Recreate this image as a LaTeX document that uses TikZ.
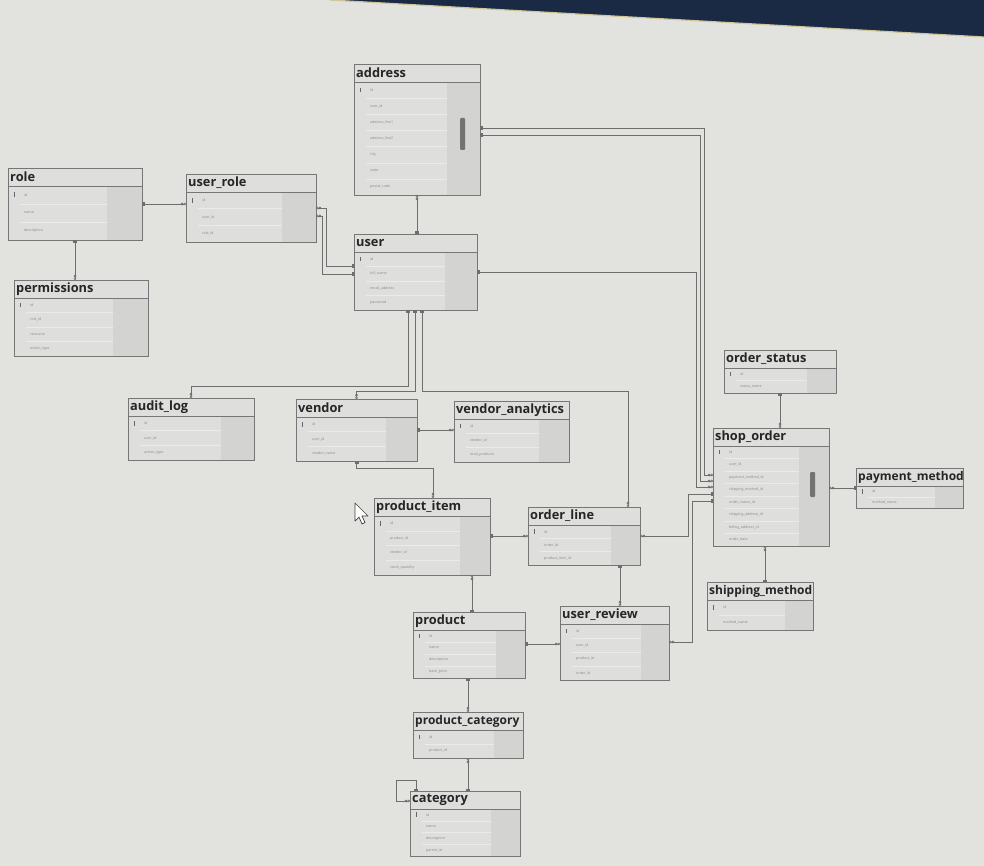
\documentclass[tikz,border=0pt]{standalone}
\usepackage{fontspec}
\setmainfont{Open Sans}
\usetikzlibrary{arrows.meta,calc}
\definecolor{bg}{HTML}{E2E2DF}
\definecolor{tblfill}{HTML}{DEDEDC}
\definecolor{colfill}{HTML}{D3D3D1}
\definecolor{border}{HTML}{767676}
\definecolor{linec}{HTML}{6E6E6E}
\definecolor{fldc}{HTML}{8C8C8C}
\definecolor{bezel}{HTML}{1B2A44}
\definecolor{edgec}{HTML}{CFC79A}
\tikzset{
  x=1pt, y=-1pt,
  tblbox/.style={rectangle, fill=tblfill, draw=none, inner sep=0pt, outer sep=0pt},
  tblborder/.style={draw=border, line width=0.9pt},
  hdrline/.style={draw=border, line width=0.6pt},
  rowline/.style={draw=white!40!tblfill, line width=0.4pt},
  ttl/.style={font=\fontsize{12.8}{13}\selectfont\bfseries, text=black!85, inner sep=1pt},
  fld/.style={font=\fontsize{3.6}{4}\selectfont, text=fldc, inner sep=0pt},
  keyc/.style={fill=black!60},
  conn/.style={draw=linec, line width=0.8pt},
  keytip/.tip={Rectangle[length=2.5pt,width=3.6pt]},
  manytip/.tip={Circle[open,length=2.6pt,width=2.6pt,line width=0.6pt] Circle[open,length=2.6pt,width=2.6pt,line width=0.6pt]},
}
% name, x, y, w, h, title, n, fields
\newcommand{\ertable}[8]{%
  \node[tblbox, minimum width=#4pt, minimum height=#5pt, anchor=north west] (#1) at (#2,#3) {};
  \fill[colfill] ({#2+0.74*#4},{#3+18}) rectangle ({#2+#4},{#3+#5});
  \draw[hdrline] (#2,{#3+18}) -- ({#2+#4},{#3+18});
  \node[ttl, anchor=west] (#1-title) at ({#2+1},{#3+9}) {#6};
  \pgfmathsetmacro\rowh{(#5-18)/#7}
  \foreach \f [count=\i] in {#8} {
    \node[fld, anchor=west] (#1-f\i) at ({#2+16},{#3+18+(\i-0.5)*\rowh}) {\f};
    \draw[rowline] ({#2+12},{#3+18+\i*\rowh}) -- ({#2+0.74*#4},{#3+18+\i*\rowh});
  }
  \fill[keyc] ({#2+6},{#3+18+0.5*\rowh-2.5}) rectangle ({#2+7},{#3+18+0.5*\rowh+2.2});
  \draw[tblborder] (#1.north west) rectangle (#1.south east);
}
\begin{document}
\begin{tikzpicture}
\fill[bg] (0,0) rectangle (984,866);
\useasboundingbox (0,0) rectangle (984,866);
% monitor bezel at the top
\fill[bezel] (330,0) -- (984,0) -- (984,37) -- cycle;
\draw[edgec, line width=1.2pt] (330,0) -- (984,37);

% tables
\ertable{address}{354}{64}{126}{131}{address}{7}{id, user\_id, address\_line1, address\_line2, city, state, postal\_code}
\fill[black!55, rounded corners=1pt] (460,118) rectangle (465,150);
\ertable{role}{8}{168}{134}{72}{role}{3}{id, name, description}
\ertable{user_role}{186}{174}{130}{68}{user\_role}{3}{id, user\_id, role\_id}
\ertable{permissions}{14}{280}{134}{76}{permissions}{4}{id, role\_id, resource, action\_type}
\ertable{user}{354}{234}{123}{76}{user}{4}{id, full\_name, email\_address, password}
\ertable{audit_log}{128}{398}{126}{62}{audit\_log}{3}{id, user\_id, action\_type}
\ertable{vendor}{296}{399}{121}{62}{vendor}{3}{id, user\_id, vendor\_name}
\ertable{vendor_analytics}{454}{401}{115}{61}{vendor\_analytics}{3}{id, vendor\_id, total\_products}
\ertable{product_item}{374}{498}{116}{77}{product\_item}{4}{id, product\_id, vendor\_id, stock\_quantity}
\ertable{order_line}{528}{507}{112}{58}{order\_line}{3}{id, order\_id, product\_item\_id}
\ertable{order_status}{724}{350}{112}{43}{order\_status}{2}{id, status\_name}
\ertable{shop_order}{713}{428}{116}{118}{shop\_order}{8}{id, user\_id, payment\_method\_id, shipping\_method\_id, order\_status\_id, shipping\_address\_id, billing\_address\_id, order\_date}
\fill[black!55, rounded corners=1pt] (810,472) rectangle (815,497);
\ertable{payment_method}{856}{468}{107}{40}{\fontsize{12}{12}\selectfont payment\_method}{2}{id, method\_name}
\ertable{shipping_method}{707}{582}{106}{48}{\fontsize{12}{12}\selectfont shipping\_method}{2}{id, method\_name}
\ertable{product}{413}{612}{112}{66}{product}{4}{id, name, description, base\_price}
\ertable{user_review}{560}{606}{109}{74}{user\_review}{4}{id, user\_id, product\_id, order\_id}
\ertable{product_category}{413}{712}{110}{46}{\fontsize{12}{12}\selectfont product\_category}{2}{id, product\_id}
\ertable{category}{410}{791}{110}{65}{category}{4}{id, name, description, parent\_id}

% connection points
\coordinate (pi-r) at ($(product_item.north east)+(0,38)$);
\coordinate (pi-b) at ($(product_item.south west)+(98,0)$);
\coordinate (pr-r) at ($(product.north east)+(0,32)$);
\coordinate (pr-b) at ($(product.south west)+(55,0)$);
\coordinate (pc-b) at ($(product_category.south west)+(55,0)$);
\coordinate (ol-b) at ($(order_line.south west)+(92,0)$);
\coordinate (so-b) at ($(shop_order.south west)+(52,0)$);

% connectors
\draw[conn, keytip-manytip] (role.east) -- (role.east -| user_role.west);
\draw[conn, keytip-manytip] (role.south) -- (role.south |- permissions.north);
\draw[conn, manytip-keytip] ($(user_role.north east)+(0,34)$) -- ++(10,0) |- ($(user.north west)+(0,32)$);
\draw[conn, manytip-keytip] ($(user_role.north east)+(0,42)$) -- ++(6,0) |- ($(user.north west)+(0,40)$);
\draw[conn, manytip-keytip] (address.south) -- (address.south |- user.north);
\draw[conn, keytip-manytip] ($(address.north east)+(0,64)$) -- ++(224,0) |- ($(shop_order.north west)+(0,47)$);
\draw[conn, keytip-manytip] ($(address.north east)+(0,71)$) -- ++(220,0) |- ($(shop_order.north west)+(0,53)$);
\draw[conn, keytip-manytip] ($(user.north east)+(0,38)$) -- ++(219,0) |- ($(shop_order.north west)+(0,59)$);
\draw[conn, manytip-keytip] ($(order_line.north east)+(0,29)$) -- ++(48,0) |- ($(shop_order.north west)+(0,66)$);
\draw[conn, manytip-keytip] ($(user_review.north east)+(0,36)$) -- ++(23,0) |- ($(shop_order.north west)+(0,73)$);
\draw[conn, keytip-manytip] ($(user.south west)+(54,0)$) -- ++(0,76) -| (audit_log.north);
\draw[conn, keytip-manytip] ($(user.south west)+(61,0)$) -- ++(0,81) -| (vendor.north);
\draw[conn, keytip-manytip] ($(user.south west)+(68,0)$) -- ++(0,81) -| ($(order_line.north west)+(100,0)$);
\draw[conn, keytip-manytip] (vendor.east) -- (vendor.east -| vendor_analytics.west);
\draw[conn, keytip-manytip] (vendor.south) -- ++(0,7) -| ($(product_item.north west)+(59,0)$);
\draw[conn, keytip-manytip] (pi-r) -- (pi-r -| order_line.west);
\draw[conn, manytip-keytip] (pi-b) -- (pi-b |- product.north);
\draw[conn, keytip-manytip] (pr-r) -- (pr-r -| user_review.west);
\draw[conn, keytip-manytip] (pr-b) -- (pr-b |- product_category.north);
\draw[conn, manytip-keytip] (pc-b) -- (pc-b |- category.north);
\draw[conn, manytip-keytip] ($(category.north west)+(0,10)$) -- ++(-14,0) -- ++(0,-21) -| ($(category.north west)+(6,0)$);
\draw[conn, keytip-manytip] (ol-b) -- (ol-b |- user_review.north);
\draw[conn, keytip-manytip] (order_status.south) -- (order_status.south |- shop_order.north);
\draw[conn, keytip-manytip] (payment_method.west) -- (payment_method.west -| shop_order.east);
\draw[conn, manytip-keytip] (so-b) -- (so-b |- shipping_method.north);

% mouse pointer
\draw[black!75, fill=white, line width=0.7pt, line join=round] (355,503) -- (355,521) -- (359,517) -- (362,524) -- (365,522.5) -- (362,516) -- (368,516) -- cycle;
\end{tikzpicture}
\end{document}
